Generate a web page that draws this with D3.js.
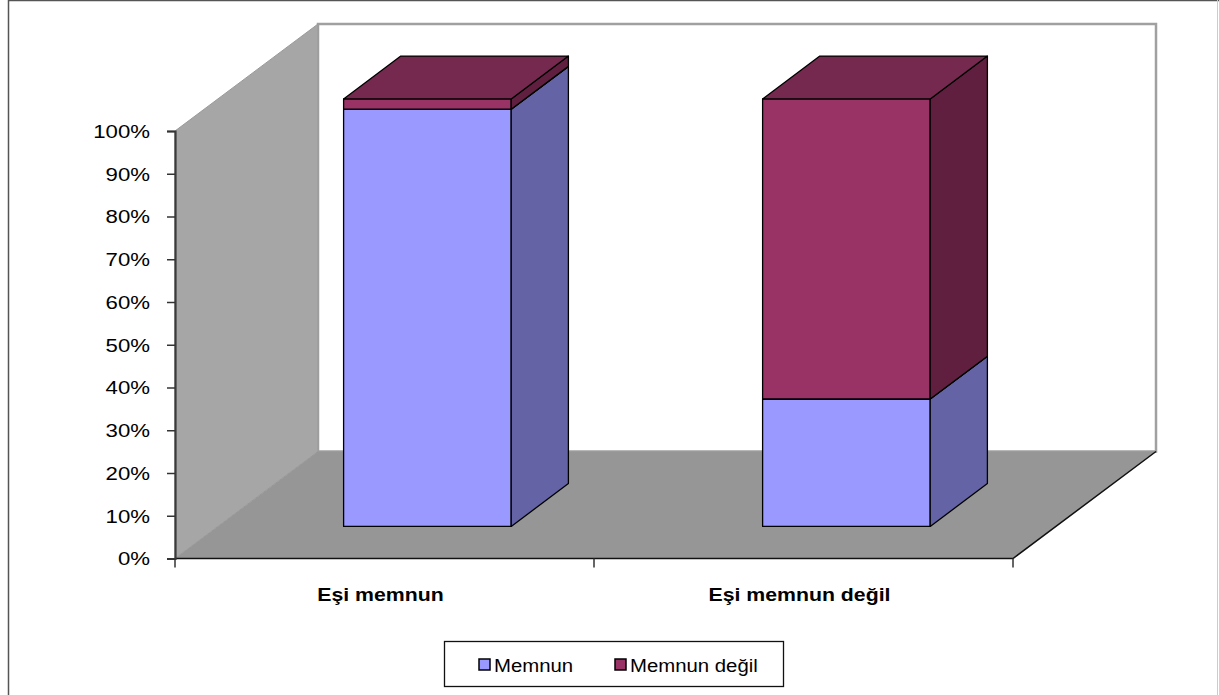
<!DOCTYPE html>
<html><head><meta charset="utf-8">
<script src="https://cdn.jsdelivr.net/npm/d3@7"></script>
<style>body{margin:0;background:#fff}svg{display:block}text{font-family:"Liberation Sans",Arial,sans-serif;fill:#000}</style>
</head><body><svg id="c" width="1219" height="695"></svg>
<script>
const categories = ["Eşi memnun", "Eşi memnun değil"];
const seriesNames = ["Memnun", "Memnun değil"];
const memnun = [97.6, 29.8];
const memnunDegil = [2.4, 70.2];
const yTickValues = [0, 0.1, 0.2, 0.3, 0.4, 0.5, 0.6, 0.7, 0.8, 0.9, 1];

const faceColors = {
  "Memnun": {front: "#9999FF", side: "#6363A5", top: "#7373BD"},
  "Memnun değil": {front: "#993366", side: "#611F3F", top: "#75294E"}
};

const svg = d3.select("#c");
const DX = 143, DY = -107;        // full depth offset
const Z0 = 0.3, Z1 = 0.7;          // bar depth span
const P = (x, y, z) => [x + DX * z, y + DY * z];

const x = d3.scaleBand().domain(categories).range([175, 1013]).paddingInner(0.6).paddingOuter(0.3);
const y = d3.scaleLinear().domain([0, 1]).range([558.5, 131]);
const xL = 175, xR = 1013;

// outer frame
svg.append("line").attr("x1", 8.5).attr("x2", 8.5).attr("y1", 0).attr("y2", 695).attr("stroke", "#555").attr("stroke-width", 1.5);
svg.append("line").attr("x1", 8).attr("x2", 1219).attr("y1", 0.5).attr("y2", 0.5).attr("stroke", "#555").attr("stroke-width", 1.5);
svg.append("line").attr("x1", 1217.5).attr("x2", 1217.5).attr("y1", 0).attr("y2", 695).attr("stroke", "#ccc").attr("stroke-width", 1);

const poly = pts => "M" + pts.map(p => p.join(",")).join("L") + "Z";

// back wall
const bw0 = P(xL, y(1), 1), bw1 = P(xR, y(0), 1);
svg.append("rect").attr("x", bw0[0]).attr("y", bw0[1]).attr("width", bw1[0] - bw0[0]).attr("height", bw1[1] - bw0[1])
  .attr("fill", "#fff").attr("stroke", "#A0A0A0").attr("stroke-width", 2.5);
// left wall
svg.append("path").attr("d", poly([P(xL, y(0), 0), P(xL, y(1), 0), P(xL, y(1), 1), P(xL, y(0), 1)]))
  .attr("fill", "#A6A6A6").attr("stroke", "#999").attr("stroke-width", 1);
// floor
svg.append("path").attr("d", poly([P(xL, y(0), 0), P(xR, y(0), 0), P(xR, y(0), 1), P(xL, y(0), 1)]))
  .attr("fill", "#969696").attr("stroke", "none");
svg.append("path").attr("d", "M" + [P(xL, y(0), 0), P(xR, y(0), 0), P(xR, y(0), 1)].map(p => p.join(",")).join("L"))
  .attr("fill", "none").attr("stroke", "#111").attr("stroke-width", 1.5);

// y axis
const yAxis = d3.axisLeft(y).tickValues(yTickValues).tickFormat(d3.format(".0%")).tickSize(8).tickPadding(17);
const ya = svg.append("g").attr("transform", `translate(${xL},0)`).call(yAxis);
ya.select(".domain").attr("stroke", "#3a3a3a").attr("stroke-width", 2.2);
ya.selectAll(".tick line").attr("stroke", "#333").attr("stroke-width", 1.5);
ya.selectAll(".tick text").attr("font-size", 18.5).attr("font-family", "Liberation Sans, Arial, sans-serif")
  .attr("fill", "#000").attr("dy", "0.34em").attr("x", -25 / 1.2).attr("transform", "scale(1.2,1)");

// category axis ticks
const bounds = [xL, x(categories[1]) - x.step() * x.paddingInner() / 2, xR];
bounds.forEach(b => svg.append("line").attr("x1", b).attr("x2", b).attr("y1", y(0)).attr("y2", y(0) + 9)
  .attr("stroke", "#333").attr("stroke-width", 1.5));
categories.forEach(c => {
  const cx = x(c) + x.bandwidth() / 2 - 4;
  svg.append("g").attr("transform", `translate(${cx},601) scale(1.15,1)`)
    .append("text").attr("text-anchor", "middle").attr("font-size", 18.5).attr("font-weight", "bold").text(c);
});

// bars
const table = categories.map((c, i) => ({cat: c, "Memnun": memnun[i], "Memnun değil": memnunDegil[i]}));
const stacked = d3.stack().keys(seriesNames).offset(d3.stackOffsetExpand)(table);
categories.forEach((c, i) => {
  const g = svg.append("g");
  const x0 = x(c), x1 = x0 + x.bandwidth();
  stacked.forEach(s => {
    const v = s[i], yb = y(v[0]), yt = y(v[1]);
    if (v[1] - v[0] <= 0) return;
    const col = faceColors[s.key];
    const st = f => f.attr("stroke", "#000").attr("stroke-width", 1.3).attr("stroke-linejoin", "round");
    st(g.append("path").attr("d", poly([P(x0, yb, Z0), P(x1, yb, Z0), P(x1, yt, Z0), P(x0, yt, Z0)])).attr("fill", col.front));
    st(g.append("path").attr("d", poly([P(x1, yb, Z0), P(x1, yb, Z1), P(x1, yt, Z1), P(x1, yt, Z0)])).attr("fill", col.side));
    st(g.append("path").attr("d", poly([P(x0, yt, Z0), P(x1, yt, Z0), P(x1, yt, Z1), P(x0, yt, Z1)])).attr("fill", col.top));
  });
});

// legend
const lg = svg.append("g");
lg.append("rect").attr("x", 444.5).attr("y", 641.5).attr("width", 339).attr("height", 45)
  .attr("fill", "#fff").attr("stroke", "#111").attr("stroke-width", 1.3);
const lx = [479, 615];
seriesNames.forEach((n, i) => {
  lg.append("rect").attr("x", lx[i]).attr("y", 659).attr("width", 11).attr("height", 11)
    .attr("fill", faceColors[n].front).attr("stroke", "#000").attr("stroke-width", 1.5);
  lg.append("g").attr("transform", `translate(${lx[i] + 15},672) scale(1.1,1)`)
    .append("text").attr("font-size", 18.5).text(n);
});
</script></body></html>
